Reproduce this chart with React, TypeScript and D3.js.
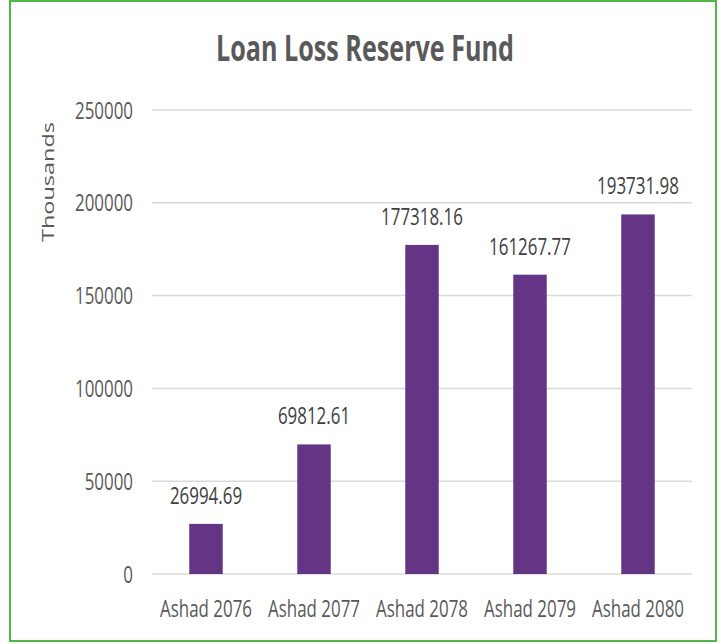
import React from "react";
import * as d3 from "d3";

const categories = ["Ashad 2076", "Ashad 2077", "Ashad 2078", "Ashad 2079", "Ashad 2080"];
const values = [26994.69, 69812.61, 177318.16, 161267.77, 193731.98];
const valueLabels = ["26994.69", "69812.61", "177318.16", "161267.77", "193731.98"];
const yTicks = [0, 50000, 100000, 150000, 200000, 250000];

const W = 726;
const H = 644;
const FONT = "'Open Sans', 'Noto Sans', 'Liberation Sans', sans-serif";
const SX = 0.72;
const FS = 23.5;

function T(props: { x: number; y: number; anchor?: string; fill?: string; size?: number; weight?: string; children: React.ReactNode }) {
  const { x, y, anchor = "middle", fill = "#595959", size = FS, weight = "normal", children } = props;
  return (
    <g transform={`translate(${x},${y}) scale(${SX},1)`}>
      <text x={0} y={0} textAnchor={anchor} fontFamily={FONT} fontSize={size} fontWeight={weight} fill={fill}>
        {children}
      </text>
    </g>
  );
}

export default function App() {
  const x = d3.scaleBand<string>().domain(categories).range([152, 692]).paddingInner(0.69).paddingOuter(0.345);
  const y = d3.scaleLinear().domain([0, 250000]).range([574, 110]);
  return (
    <svg width={W} height={H} style={{ position: "absolute", left: 0, top: 0, background: "#fff" }}>
      <rect x={10} y={1} width={706} height={640} fill="#fff" stroke="#4db848" strokeWidth={2} />
      <text
        x={365}
        y={61}
        textAnchor="middle"
        fontFamily={FONT}
        fontWeight="bold"
        fontSize={36}
        fill="#595959"
        textLength={298}
        lengthAdjust="spacingAndGlyphs"
      >
        Loan Loss Reserve Fund
      </text>
      <g transform={`translate(54,182) rotate(-90) scale(1,${SX})`}>
        <text x={0} y={0} textAnchor="middle" fontFamily={FONT} fontSize={FS} fill="#595959">
          Thousands
        </text>
      </g>
      {yTicks.map((t) => (
        <g key={t}>
          <line x1={152} x2={692} y1={y(t)} y2={y(t)} stroke="#d9d9d9" strokeWidth={1.5} />
          <T x={133} y={y(t) + 8.5} anchor="end">
            {t}
          </T>
        </g>
      ))}
      {categories.map((c, i) => (
        <g key={c}>
          <rect x={x(c)} y={y(values[i])} width={x.bandwidth()} height={y(0) - y(values[i])} fill="#643584" />
          <T x={(x(c) as number) + x.bandwidth() / 2} y={y(values[i]) - 20} fill="#404040">
            {valueLabels[i]}
          </T>
          <T x={(x(c) as number) + x.bandwidth() / 2} y={617}>
            {c}
          </T>
        </g>
      ))}
    </svg>
  );
}
